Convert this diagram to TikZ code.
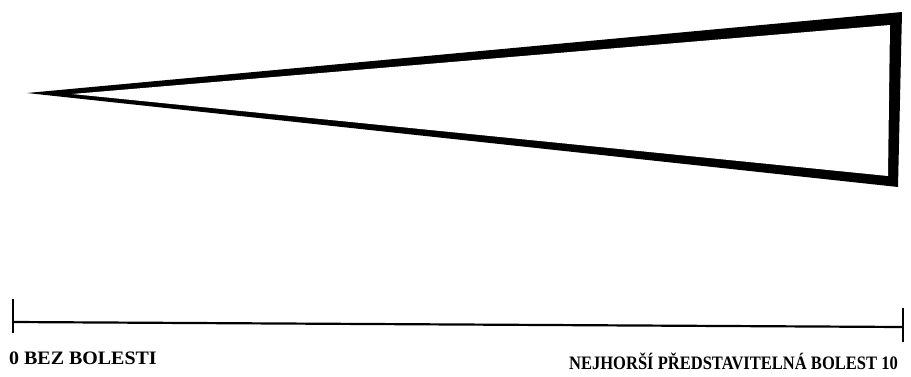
\documentclass[tikz,border=0pt]{standalone}
\usepackage{fontspec}
\setmainfont{Liberation Serif}
\begin{document}
\begin{tikzpicture}[x=1pt,y=-1pt,
  lbl/.style={font=\bfseries\fontsize{19}{22}\selectfont, inner sep=0pt},
  scaleline/.style={line width=2.2pt}]
\useasboundingbox (0,0) rectangle (911,376);
% wedge
\fill[black] (27,93) -- (902,12) -- (898,187) -- cycle;
\fill[white] (72,94) -- (890,25) -- (888,176) -- cycle;
% scale
\coordinate (L) at (13,322);
\coordinate (R) at (903,327);
\draw[scaleline] (L) -- (R);
\draw[scaleline] (13,299) -- (13,333);
\draw[scaleline] (903,308) -- (903,342);
\node[lbl, anchor=base west, xscale=1.05] (a) at (9,364) {0 BEZ BOLESTI};
\node[lbl, anchor=base east, xscale=0.87] (b) at (898,369) {NEJHORŠÍ PŘEDSTAVITELNÁ BOLEST 10};
\end{tikzpicture}
\end{document}
